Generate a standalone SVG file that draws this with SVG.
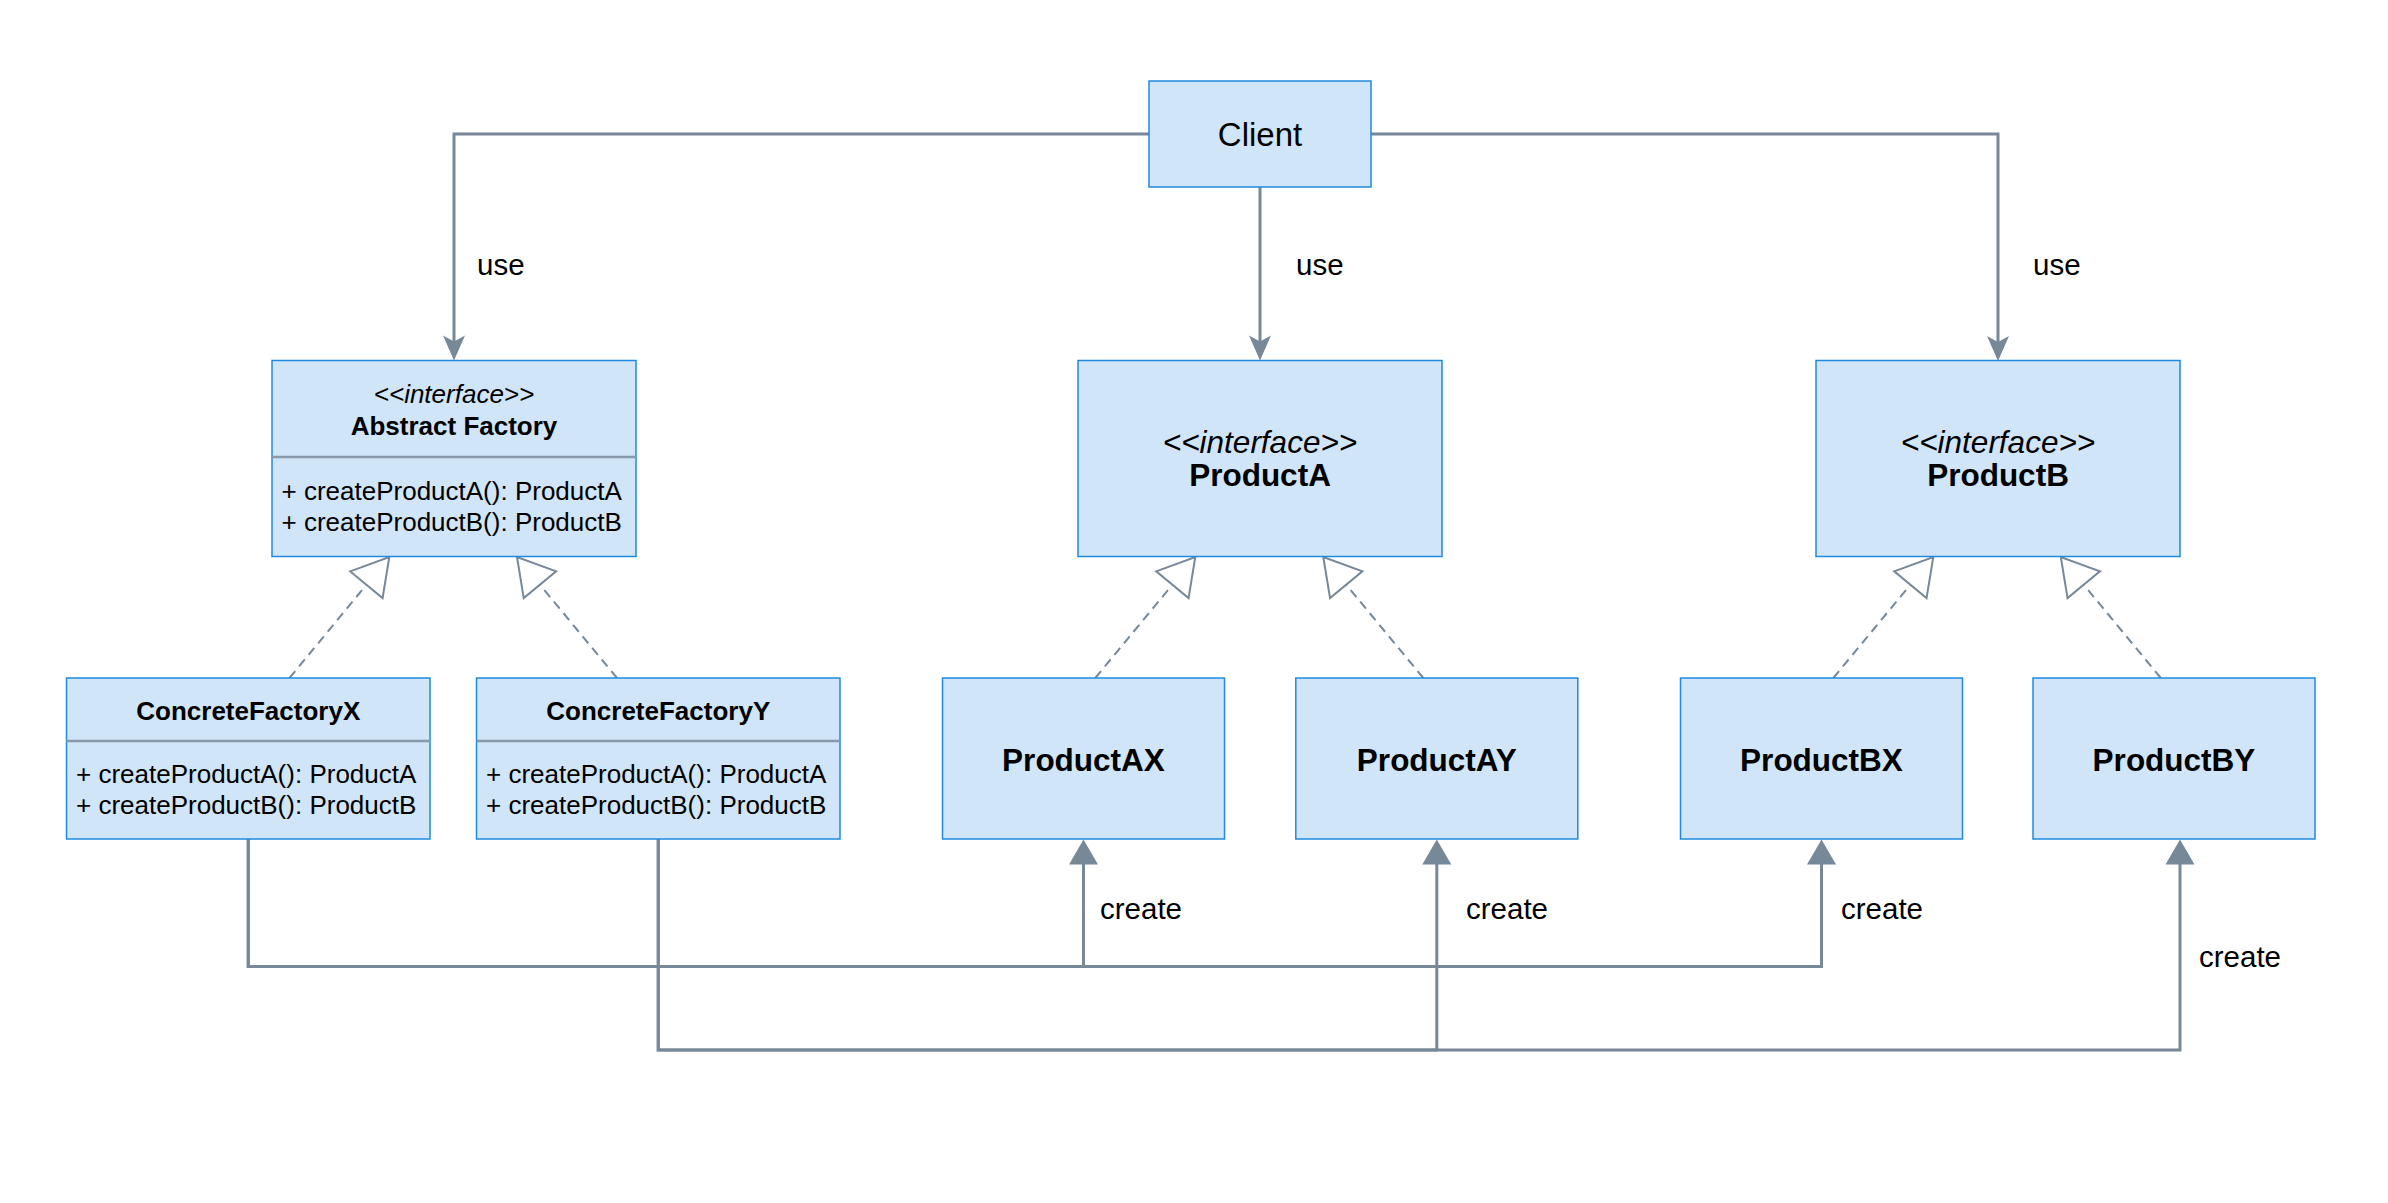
<svg xmlns="http://www.w3.org/2000/svg" width="2388" height="1203" viewBox="0 0 2388 1203">
<style>
.box{fill:#d0e5f7;stroke:#1f8ae0;stroke-width:1.5}
.div{stroke:#8799aa;stroke-width:2.5}
.conn{fill:none;stroke:#778899;stroke-width:3}
.dash{fill:none;stroke:#778899;stroke-width:2;stroke-dasharray:9 6}
text{font-family:"Liberation Sans",Arial,sans-serif;fill:#000}
.c{text-anchor:middle}
.b{font-weight:bold}
.i{font-style:italic}
.s{font-size:26px}
</style>
<defs>
<marker id="use" markerUnits="userSpaceOnUse" orient="auto" refX="8" refY="0" markerWidth="1" markerHeight="1" overflow="visible">
<path d="M0,-11 L25,0 L0,11 L6,0 Z" fill="#778899"/>
</marker>
<marker id="create" markerUnits="userSpaceOnUse" orient="auto" refX="5" refY="0" markerWidth="1" markerHeight="1" overflow="visible">
<path d="M0,-14.5 L25,0 L0,14.5 Z" fill="#778899"/>
</marker>
<marker id="impl" markerUnits="userSpaceOnUse" orient="auto" refX="36" refY="0" markerWidth="1" markerHeight="1" overflow="visible">
<path d="M0,-21 L36,0 L0,21 Z" fill="#fff" stroke="#778899" stroke-width="2" stroke-linejoin="miter"/>
</marker>
</defs>
<rect width="2388" height="1203" fill="#fff"/>

<g id="connectors">
<path class="conn" d="M1149,134 H454 V343.5" marker-end="url(#use)"/>
<path class="conn" d="M1260,187 V343.5" marker-end="url(#use)"/>
<path class="conn" d="M1371,134 H1998 V344" marker-end="url(#use)"/>
<path class="dash" d="M289.5,678 L389.3,557" marker-end="url(#impl)"/>
<path class="dash" d="M617,678 L517,557" marker-end="url(#impl)"/>
<path class="dash" d="M1095.3,678 L1195.3,557" marker-end="url(#impl)"/>
<path class="dash" d="M1423.3,678 L1323.3,557" marker-end="url(#impl)"/>
<path class="dash" d="M1833.3,678 L1933.3,557" marker-end="url(#impl)"/>
<path class="dash" d="M2160.8,678 L2060.8,557" marker-end="url(#impl)"/>
<path class="conn" d="M248.25,839 V966.5 H1083.5 V859.5" marker-end="url(#create)"/>
<path class="conn" d="M248.25,839 V966.5 H1821.5 V859.5" marker-end="url(#create)"/>
<path class="conn" d="M658.25,839 V1050 H1436.8 V859.5" marker-end="url(#create)"/>
<path class="conn" d="M658.25,839 V1050 H2180 V859.5" marker-end="url(#create)"/>
<text x="477" y="274.5" font-size="29.5">use</text>
<text x="1296" y="274.5" font-size="29.5">use</text>
<text x="2033" y="274.5" font-size="29.5">use</text>
<text x="1100" y="919" font-size="29.5">create</text>
<text x="1466" y="919" font-size="29.5">create</text>
<text x="1841" y="919" font-size="29.5">create</text>
<text x="2199" y="966.5" font-size="29.5">create</text>
</g>

<g id="client">
<rect class="box" x="1149" y="81" width="222" height="106"/>
<text class="c" x="1260" y="146" font-size="33">Client</text>
</g>

<g id="abstract-factory">
<rect class="box" x="272" y="360.5" width="364" height="196"/>
<line class="div" x1="272" y1="457" x2="636" y2="457"/>
<text class="c i s" x="454" y="403">&lt;&lt;interface&gt;&gt;</text>
<text class="c b s" x="454" y="435">Abstract Factory</text>
<text class="s" x="281.5" y="500">+ createProductA(): ProductA</text>
<text class="s" x="281.5" y="531">+ createProductB(): ProductB</text>
</g>

<g id="product-a">
<rect class="box" x="1078" y="360.5" width="364" height="196"/>
<text class="c i" x="1260" y="452.5" font-size="31.5">&lt;&lt;interface&gt;&gt;</text>
<text class="c b" x="1260" y="486" font-size="31.5">ProductA</text>
</g>

<g id="product-b">
<rect class="box" x="1816" y="360.5" width="364" height="196"/>
<text class="c i" x="1998" y="452.5" font-size="31.5">&lt;&lt;interface&gt;&gt;</text>
<text class="c b" x="1998" y="486" font-size="31.5">ProductB</text>
</g>

<g id="concrete-factory-x">
<rect class="box" x="66.5" y="678" width="363.5" height="161"/>
<line class="div" x1="66.5" y1="741" x2="430" y2="741"/>
<text class="c b s" x="248.25" y="720">ConcreteFactoryX</text>
<text class="s" x="76" y="783">+ createProductA(): ProductA</text>
<text class="s" x="76" y="814">+ createProductB(): ProductB</text>
</g>

<g id="concrete-factory-y">
<rect class="box" x="476.5" y="678" width="363.5" height="161"/>
<line class="div" x1="476.5" y1="741" x2="840" y2="741"/>
<text class="c b s" x="658.25" y="720">ConcreteFactoryY</text>
<text class="s" x="486" y="783">+ createProductA(): ProductA</text>
<text class="s" x="486" y="814">+ createProductB(): ProductB</text>
</g>

<g id="product-ax">
<rect class="box" x="942.5" y="678" width="282" height="161"/>
<text class="c b" x="1083.5" y="770.5" font-size="31.5">ProductAX</text>
</g>

<g id="product-ay">
<rect class="box" x="1295.8" y="678" width="282" height="161"/>
<text class="c b" x="1436.8" y="770.5" font-size="31.5">ProductAY</text>
</g>

<g id="product-bx">
<rect class="box" x="1680.5" y="678" width="282" height="161"/>
<text class="c b" x="1821.5" y="770.5" font-size="31.5">ProductBX</text>
</g>

<g id="product-by">
<rect class="box" x="2033" y="678" width="282" height="161"/>
<text class="c b" x="2174" y="770.5" font-size="31.5">ProductBY</text>
</g>
</svg>
